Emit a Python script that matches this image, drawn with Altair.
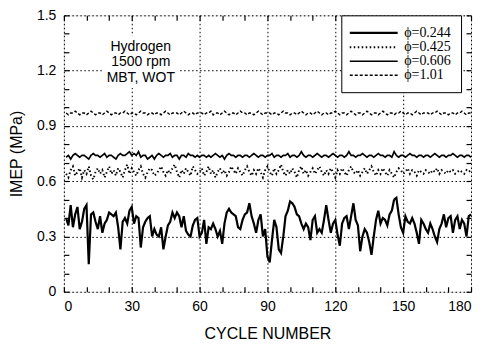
import altair as alt
import pandas as pd

# ---------------- data ----------------
cycles = list(range(1, 181))
series_names = ["ϕ=0.244", "ϕ=0.425", "ϕ=0.606", "ϕ=1.01"]

imep_0244 = [
    0.40, 0.36, 0.47, 0.35, 0.42, 0.46, 0.34, 0.38, 0.45, 0.47,
    0.15, 0.42, 0.43, 0.38, 0.34, 0.41, 0.32, 0.37, 0.39, 0.43,
    0.42, 0.41, 0.43, 0.35, 0.23, 0.38, 0.40, 0.37, 0.44, 0.46,
    0.37, 0.41, 0.40, 0.24, 0.35, 0.38, 0.40, 0.41, 0.30, 0.34,
    0.31, 0.30, 0.35, 0.23, 0.30, 0.36, 0.38, 0.43, 0.40, 0.43,
    0.41, 0.35, 0.41, 0.33, 0.31, 0.30, 0.36, 0.39, 0.40, 0.30,
    0.32, 0.39, 0.26, 0.35, 0.34, 0.37, 0.34, 0.30, 0.33, 0.26,
    0.37, 0.43, 0.45, 0.43, 0.42, 0.41, 0.35, 0.34, 0.39, 0.42,
    0.43, 0.48, 0.41, 0.37, 0.32, 0.39, 0.42, 0.30, 0.34, 0.19,
    0.16, 0.28, 0.39, 0.35, 0.23, 0.21, 0.30, 0.41, 0.44, 0.49,
    0.48, 0.46, 0.42, 0.41, 0.37, 0.34, 0.37, 0.35, 0.28, 0.39,
    0.41, 0.32, 0.34, 0.32, 0.39, 0.47, 0.39, 0.32, 0.37, 0.39,
    0.31, 0.25, 0.37, 0.40, 0.41, 0.34, 0.41, 0.48, 0.39, 0.36,
    0.22, 0.30, 0.34, 0.32, 0.27, 0.20, 0.30, 0.39, 0.44, 0.37,
    0.40, 0.39, 0.36, 0.42, 0.44, 0.50, 0.51, 0.42, 0.35, 0.32,
    0.41, 0.38, 0.37, 0.40, 0.37, 0.32, 0.26, 0.39, 0.37, 0.34,
    0.32, 0.37, 0.34, 0.30, 0.27, 0.34, 0.37, 0.42, 0.35, 0.40,
    0.41, 0.32, 0.39, 0.41, 0.34, 0.39, 0.37, 0.30, 0.41, 0.42,
]

imep_0425 = [
    0.64, 0.62, 0.66, 0.68, 0.63, 0.65, 0.67, 0.62, 0.66, 0.64,
    0.68, 0.63, 0.61, 0.65, 0.67, 0.64, 0.66, 0.62, 0.65, 0.68,
    0.64, 0.66, 0.63, 0.67, 0.65, 0.62, 0.66, 0.69, 0.64, 0.67,
    0.65, 0.63, 0.66, 0.68, 0.64, 0.62, 0.65, 0.67, 0.66, 0.63,
    0.64, 0.66, 0.68, 0.65, 0.63, 0.66, 0.64, 0.67, 0.69, 0.65,
    0.62, 0.66, 0.64, 0.67, 0.65, 0.63, 0.68, 0.66, 0.64, 0.65,
    0.67, 0.63, 0.65, 0.68, 0.64, 0.66, 0.62, 0.65, 0.67, 0.64,
    0.66, 0.63, 0.65, 0.68, 0.66, 0.64, 0.67, 0.65, 0.63, 0.66,
    0.68, 0.65, 0.63, 0.66, 0.64, 0.67, 0.65, 0.62, 0.66, 0.68,
    0.65, 0.63, 0.67, 0.64, 0.66, 0.69, 0.65, 0.63, 0.66, 0.64,
    0.67, 0.65, 0.62, 0.66, 0.68, 0.64, 0.66, 0.63, 0.65, 0.67,
    0.64, 0.66, 0.68, 0.65, 0.63, 0.66, 0.64, 0.67, 0.65, 0.62,
    0.66, 0.64, 0.67, 0.65, 0.63, 0.66, 0.68, 0.65, 0.64, 0.66,
    0.63, 0.65, 0.67, 0.64, 0.66, 0.68, 0.65, 0.63, 0.66, 0.64,
    0.67, 0.65, 0.63, 0.66, 0.64, 0.62, 0.65, 0.67, 0.66, 0.64,
    0.65, 0.67, 0.64, 0.66, 0.65, 0.63, 0.66, 0.65, 0.64, 0.66,
    0.65, 0.64, 0.66, 0.65, 0.67, 0.64, 0.66, 0.65, 0.64, 0.66,
    0.65, 0.66, 0.64, 0.65, 0.66, 0.65, 0.64, 0.66, 0.65, 0.66,
]

imep_0606 = [
    0.73, 0.74, 0.72, 0.74, 0.75, 0.74, 0.73, 0.74, 0.74, 0.73,
    0.72, 0.74, 0.75, 0.74, 0.74, 0.73, 0.74, 0.75, 0.73, 0.74,
    0.74, 0.73, 0.72, 0.74, 0.75, 0.74, 0.74, 0.75, 0.76, 0.74,
    0.75, 0.74, 0.76, 0.73, 0.74, 0.74, 0.72, 0.73, 0.74, 0.72,
    0.74, 0.75, 0.74, 0.73, 0.74, 0.74, 0.75, 0.73, 0.74, 0.74,
    0.72, 0.74, 0.74, 0.73, 0.75, 0.74, 0.74, 0.73, 0.74, 0.73,
    0.74, 0.74, 0.73, 0.74, 0.73, 0.74, 0.75, 0.74, 0.73, 0.74,
    0.72, 0.74, 0.75, 0.74, 0.74, 0.73, 0.74, 0.74, 0.73, 0.74,
    0.74, 0.73, 0.74, 0.75, 0.74, 0.73, 0.74, 0.74, 0.73, 0.74,
    0.74, 0.75, 0.73, 0.74, 0.74, 0.73, 0.74, 0.74, 0.75, 0.73,
    0.74, 0.74, 0.73, 0.74, 0.76, 0.74, 0.73, 0.74, 0.74, 0.73,
    0.74, 0.75, 0.74, 0.73, 0.74, 0.74, 0.73, 0.74, 0.75, 0.74,
    0.73, 0.74, 0.74, 0.73, 0.74, 0.76, 0.74, 0.74, 0.73, 0.74,
    0.74, 0.75, 0.74, 0.73, 0.74, 0.74, 0.73, 0.74, 0.75, 0.74,
    0.74, 0.73, 0.74, 0.74, 0.73, 0.76, 0.74, 0.73, 0.74, 0.74,
    0.73, 0.74, 0.75, 0.74, 0.74, 0.73, 0.74, 0.74, 0.73, 0.74,
    0.74, 0.73, 0.74, 0.75, 0.74, 0.73, 0.74, 0.74, 0.73, 0.74,
    0.74, 0.75, 0.74, 0.73, 0.74, 0.74, 0.73, 0.74, 0.74, 0.73,
]

imep_101 = [
    0.97, 0.96, 0.97, 0.97, 0.98, 0.97, 0.96, 0.97, 0.97, 0.96,
    0.97, 0.98, 0.97, 0.96, 0.97, 0.97, 0.96, 0.97, 0.98, 0.97,
    0.96, 0.97, 0.97, 0.96, 0.97, 0.97, 0.98, 0.97, 0.96, 0.97,
    0.97, 0.96, 0.97, 0.98, 0.97, 0.97, 0.96, 0.97, 0.97, 0.96,
    0.97, 0.97, 0.96, 0.97, 0.98, 0.97, 0.96, 0.97, 0.97, 0.97,
    0.96, 0.97, 0.98, 0.97, 0.96, 0.97, 0.97, 0.96, 0.97, 0.97,
    0.97, 0.96, 0.97, 0.97, 0.98, 0.96, 0.97, 0.97, 0.96, 0.97,
    0.98, 0.97, 0.96, 0.97, 0.97, 0.96, 0.97, 0.98, 0.97, 0.97,
    0.96, 0.97, 0.97, 0.96, 0.97, 0.98, 0.97, 0.96, 0.97, 0.97,
    0.97, 0.96, 0.97, 0.97, 0.96, 0.97, 0.98, 0.97, 0.97, 0.96,
    0.97, 0.97, 0.96, 0.97, 0.98, 0.97, 0.96, 0.97, 0.97, 0.96,
    0.97, 0.98, 0.97, 0.96, 0.97, 0.97, 0.96, 0.97, 0.97, 0.98,
    0.97, 0.96, 0.97, 0.97, 0.96, 0.97, 0.98, 0.97, 0.96, 0.97,
    0.97, 0.96, 0.97, 0.98, 0.97, 0.96, 0.97, 0.97, 0.96, 0.97,
    0.98, 0.97, 0.96, 0.97, 0.97, 0.96, 0.97, 0.97, 0.98, 0.97,
    0.96, 0.97, 0.97, 0.96, 0.97, 0.98, 0.97, 0.96, 0.97, 0.97,
    0.97, 0.96, 0.97, 0.97, 0.98, 0.97, 0.96, 0.97, 0.97, 0.96,
    0.97, 0.97, 0.96, 0.97, 0.97, 0.98, 0.97, 0.96, 0.97, 0.97,
]

x_label_values = [0, 30, 60, 90, 120, 150, 180]
y_label_values = [0, 0.3, 0.6, 0.9, 1.2, 1.5]
x_minor_values = [0, 10, 20, 30, 40, 50, 60, 70, 80, 90, 100, 110, 120, 130, 140, 150, 160, 170, 180]
y_minor_values = [0, 0.1, 0.2, 0.3, 0.4, 0.5, 0.6, 0.7, 0.8, 0.9, 1.0, 1.1, 1.2, 1.3, 1.4, 1.5]

note_lines = ["Hydrogen", "1500 rpm", "MBT, WOT"]
note_x = [34, 34, 34]
note_y = [1.33, 1.245, 1.16]

# ---------------- tables ----------------
all_values = [imep_0244, imep_0425, imep_0606, imep_101]
rows = []
for name, vals in zip(series_names, all_values):
    for c, v in zip(cycles, vals):
        rows.append({"cycle": c, "imep": v, "series": name})
df = pd.DataFrame(rows)
notes = pd.DataFrame({"nx": note_x, "ny": note_y, "txt": note_lines})

# ---------------- chart ----------------
W, H = 408, 277
FONT = "Liberation Sans"
xs = alt.Scale(domain=[0, 180], nice=False, zero=False)
ys = alt.Scale(domain=[0, 1.5], nice=False, zero=False)

axis_x_main = alt.Axis(
    orient="bottom", values=x_label_values, ticks=False, tickSize=0, domain=False,
    labelPadding=8, labelFont=FONT, labelFontSize=14, labelColor="black",
    grid=True, gridColor="black", gridDash=[1.5, 2.5], gridWidth=1, gridOpacity=1,
    title="CYCLE NUMBER", titleFont=FONT, titleFontSize=16, titleFontWeight="normal",
    titleColor="black", titlePadding=12,
)
axis_y_main = alt.Axis(
    orient="left", values=y_label_values, format=".1~f", ticks=False, tickSize=0, domain=False,
    labelPadding=8, labelFont=FONT, labelFontSize=14, labelColor="black",
    grid=True, gridColor="black", gridDash=[1.5, 2.5], gridWidth=1, gridOpacity=1,
    title="IMEP (MPa)", titleFont=FONT, titleFontSize=16, titleFontWeight="normal",
    titleColor="black", titlePadding=12,
)

tick_common = dict(labels=False, domain=False, grid=False, ticks=True, tickSize=5,
                   tickWidth=1.2, tickColor="black", title=None)
ax_x_bottom_in = alt.Axis(orient="top", offset=-H, values=x_minor_values, **tick_common)
ax_x_top_in = alt.Axis(orient="bottom", offset=-H, values=x_minor_values, **tick_common)
ax_y_left_in = alt.Axis(orient="right", offset=-W, values=y_minor_values, **tick_common)
ax_y_right_in = alt.Axis(orient="left", offset=-W, values=y_minor_values, **tick_common)

dash_range = [[1, 0], [1.5, 2.5], [1, 0], [3, 2]]
width_range = [2.2, 1.4, 2.0, 1.4]

legend = alt.Legend(
    title=None, orient="none", legendX=278, legendY=0,
    strokeColor="black", fillColor="white", padding=10,
    symbolType="M-4,0H4", symbolSize=144, symbolStrokeWidth=2, symbolStrokeColor="black",
    symbolOffset=15, labelOffset=23,
    labelFont="Liberation Serif", labelFontSize=14, labelColor="black",
    labelExpr="datum.label + '    '",
    rowPadding=0,
)

lines = alt.Chart(df).mark_line(color="black").encode(
    x=alt.X("cycle:Q", scale=xs, axis=axis_x_main),
    y=alt.Y("imep:Q", scale=ys, axis=axis_y_main),
    strokeDash=alt.StrokeDash("series:N", sort=series_names,
                              scale=alt.Scale(domain=series_names, range=dash_range),
                              legend=legend),
    strokeWidth=alt.StrokeWidth("series:N", sort=series_names,
                                scale=alt.Scale(domain=series_names, range=width_range),
                                legend=None),
)

ticks_a = alt.Chart(df).mark_point(opacity=0).encode(
    x=alt.X("cycle:Q", scale=xs, axis=ax_x_bottom_in),
    y=alt.Y("imep:Q", scale=ys, axis=ax_y_left_in),
)
ticks_b = alt.Chart(df).mark_point(opacity=0).encode(
    x=alt.X("cycle:Q", scale=xs, axis=ax_x_top_in),
    y=alt.Y("imep:Q", scale=ys, axis=ax_y_right_in),
)

note_halo = alt.Chart(notes).mark_text(
    font=FONT, fontSize=14, color="white", stroke="white", strokeWidth=8
).encode(
    x=alt.X("nx:Q", scale=xs, axis=None),
    y=alt.Y("ny:Q", scale=ys, axis=None),
    text="txt:N",
)
note_text = alt.Chart(notes).mark_text(font=FONT, fontSize=14, color="black").encode(
    x=alt.X("nx:Q", scale=xs, axis=None),
    y=alt.Y("ny:Q", scale=ys, axis=None),
    text="txt:N",
)

chart = alt.layer(lines, ticks_a, ticks_b, note_halo, note_text).resolve_axis(
    x="independent", y="independent"
).properties(
    width=W, height=H,
    padding={"left": 56, "top": 7, "right": 6, "bottom": 50},
    autosize=alt.AutoSizeParams(type="none"),
).configure_view(
    stroke="black", strokeWidth=1.5
).configure(background="white")

chart.save("out.html", embed_options={"renderer": "svg", "actions": False})
